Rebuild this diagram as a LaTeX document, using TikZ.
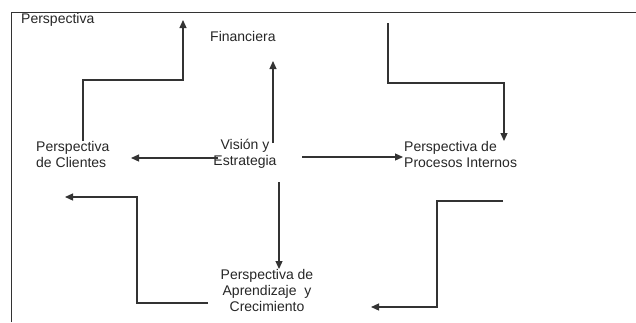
\documentclass[tikz,border=0pt]{standalone}
\usepackage{fontspec}
\setmainfont{Liberation Sans}
\usetikzlibrary{arrows.meta, positioning}
\tikzset{lbl/.style={inner sep=0pt, text=black!85, font=\fontsize{14}{16}\selectfont},
    flow/.style={draw=black!80, line width=1.2pt, -{Triangle[length=8pt,width=7pt]}},
    edge/.style={draw=black!80, line width=1.2pt}}

\begin{document}
\begin{tikzpicture}[x=1pt, y=-1pt]
                 \useasboundingbox (0,0) rectangle (636,322);
                 \draw[edge, line width=1pt] (11.5,322) |- (636,12.5);
                 \node[lbl, anchor=west] (persp) at (21,20) {Perspectiva};
                 \node[lbl, anchor=west] (fin) at (210,36) {Financiera};
                 \node[lbl, align=center] (vis) at (245,154) {Visión y\\Estrategia};
                 \node[lbl, align=left, anchor=west] (cli) at (36,154) {Perspectiva\\de Clientes};
                 \node[lbl, align=left, anchor=west] (pro) at (404,154) {Perspectiva de\\Procesos Internos};
                 \node[lbl, align=center] (apr) at (267,290) {Perspectiva de\\Aprendizaje~ y\\Crecimiento};

                 \coordinate (cliA) at (83,141);
                 \coordinate (cliK) at (183,80);
                 \coordinate (cliT) at (183,20);
                 \draw[flow] (cliA) |- (cliK) -- (cliT);

                 \coordinate (visU) at (273,143);
                 \coordinate (finT) at (273,61);
                 \draw[flow] (visU) -- (finT);

                 \coordinate (finA) at (388,23);
                 \coordinate (finK) at (504,83);
                 \coordinate (proT) at (504,141);
                 \draw[flow] (finA) |- (finK) -- (proT);

                 \coordinate (visL) at (218,158);
                 \coordinate (cliR) at (131,158);
                 \draw[flow] (visL) -- (cliR);

                 \coordinate (visR) at (302,157);
                 \coordinate (proL) at (403,157);
                 \draw[flow] (visR) -- (proL);

                 \coordinate (visD) at (279,182);
                 \coordinate (aprT) at (279,269);
                 \draw[flow] (visD) -- (aprT);

                 \coordinate (aprL) at (208,303);
                 \coordinate (aprK) at (137,197);
                 \coordinate (cliB) at (65,197);
                 \draw[flow] (aprL) -| (aprK) -- (cliB);

                 \coordinate (proB) at (503,201);
                 \coordinate (proK) at (437,307);
                 \coordinate (aprR) at (371,307);
                 \draw[flow] (proB) -| (proK) -- (aprR);
\end{tikzpicture}
\end{document}
